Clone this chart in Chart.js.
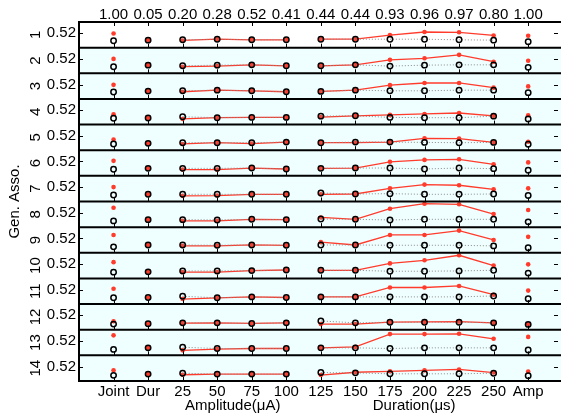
<!DOCTYPE html>
<html>
<head>
<meta charset="utf-8">
<script src="https://cdn.jsdelivr.net/npm/chart.js@4.4.1/dist/chart.umd.min.js"></script>
<style>
html, body { margin: 0; padding: 0; background: #fff; }
</style>
</head>
<body>
<canvas id="myChart" width="561" height="416"></canvas>
<script>
// categories along the x axis and the row of numbers above the plot
const categories = ["Joint", "Dur", "25", "50", "75", "100", "125", "150", "175", "200", "225", "250", "Amp"];
const topLabels = ["1.00", "0.05", "0.20", "0.28", "0.52", "0.41", "0.44", "0.44", "0.93", "0.96", "0.97", "0.80", "1.00"];
const panels = ["1", "2", "3", "4", "5", "6", "7", "8", "9", "10", "11", "12", "13", "14"];
const yTick = 0.52;

// one row per panel
const redValues = [
	[0.51, 0.30, 0.29, 0.33, 0.31, 0.31, 0.33, 0.33, 0.46, 0.56, 0.55, 0.45, 0.44],
	[0.52, 0.32, 0.27, 0.29, 0.33, 0.30, 0.30, 0.33, 0.49, 0.54, 0.65, 0.43, 0.46],
	[0.51, 0.31, 0.29, 0.34, 0.32, 0.29, 0.30, 0.34, 0.50, 0.57, 0.57, 0.42, 0.46],
	[0.39, 0.27, 0.24, 0.28, 0.29, 0.29, 0.30, 0.34, 0.37, 0.40, 0.43, 0.34, 0.36],
	[0.40, 0.28, 0.26, 0.30, 0.27, 0.32, 0.30, 0.30, 0.32, 0.44, 0.43, 0.31, 0.33],
	[0.54, 0.30, 0.26, 0.26, 0.31, 0.28, 0.30, 0.31, 0.51, 0.57, 0.59, 0.43, 0.49],
	[0.52, 0.29, 0.24, 0.25, 0.29, 0.29, 0.29, 0.30, 0.48, 0.60, 0.58, 0.45, 0.48],
	[0.68, 0.30, 0.26, 0.26, 0.31, 0.30, 0.37, 0.31, 0.65, 0.81, 0.79, 0.48, 0.61],
	[0.63, 0.31, 0.28, 0.28, 0.31, 0.30, 0.40, 0.31, 0.63, 0.63, 0.77, 0.47, 0.57],
	[0.58, 0.27, 0.26, 0.26, 0.31, 0.33, 0.32, 0.32, 0.54, 0.64, 0.80, 0.47, 0.51],
	[0.55, 0.27, 0.22, 0.26, 0.29, 0.27, 0.29, 0.29, 0.59, 0.59, 0.64, 0.36, 0.49],
	[0.33, 0.25, 0.27, 0.28, 0.26, 0.28, 0.24, 0.24, 0.30, 0.31, 0.32, 0.28, 0.24],
	[0.70, 0.30, 0.22, 0.26, 0.28, 0.28, 0.30, 0.33, 0.74, 0.74, 0.75, 0.59, 0.65],
	[0.40, 0.28, 0.26, 0.28, 0.28, 0.28, 0.25, 0.34, 0.37, 0.40, 0.43, 0.33, 0.36],
];
const blackValues = [
	[0.28, 0.30, 0.31, 0.33, 0.31, 0.31, 0.33, 0.33, 0.33, 0.33, 0.31, 0.30, 0.25],
	[0.27, 0.32, 0.30, 0.32, 0.33, 0.30, 0.30, 0.33, 0.29, 0.32, 0.33, 0.33, 0.25],
	[0.28, 0.31, 0.32, 0.34, 0.32, 0.29, 0.30, 0.34, 0.32, 0.32, 0.34, 0.34, 0.26],
	[0.26, 0.27, 0.31, 0.28, 0.29, 0.29, 0.33, 0.34, 0.29, 0.28, 0.28, 0.33, 0.24],
	[0.26, 0.28, 0.30, 0.30, 0.30, 0.32, 0.30, 0.32, 0.32, 0.31, 0.30, 0.31, 0.25],
	[0.27, 0.30, 0.30, 0.30, 0.31, 0.28, 0.30, 0.31, 0.31, 0.28, 0.31, 0.29, 0.24],
	[0.27, 0.29, 0.29, 0.29, 0.29, 0.29, 0.33, 0.30, 0.31, 0.29, 0.29, 0.30, 0.25],
	[0.26, 0.30, 0.30, 0.29, 0.31, 0.30, 0.32, 0.31, 0.29, 0.31, 0.31, 0.31, 0.23],
	[0.25, 0.31, 0.31, 0.30, 0.31, 0.30, 0.31, 0.31, 0.30, 0.30, 0.30, 0.28, 0.22],
	[0.26, 0.27, 0.30, 0.30, 0.31, 0.33, 0.32, 0.32, 0.29, 0.29, 0.30, 0.32, 0.23],
	[0.26, 0.27, 0.31, 0.26, 0.29, 0.27, 0.29, 0.29, 0.29, 0.29, 0.29, 0.32, 0.23],
	[0.24, 0.25, 0.28, 0.28, 0.26, 0.28, 0.34, 0.28, 0.30, 0.30, 0.30, 0.28, 0.23],
	[0.25, 0.30, 0.32, 0.28, 0.28, 0.28, 0.30, 0.30, 0.28, 0.30, 0.30, 0.30, 0.23],
	[0.24, 0.28, 0.31, 0.28, 0.28, 0.28, 0.33, 0.32, 0.29, 0.29, 0.29, 0.31, 0.23],
];

const RED = "#ff3b2c";
const DOT = "#8c8c8c";
const FONT = "'Liberation Sans', Arial, sans-serif";
// no line between these index and the next one
const breaks = [0, 1, 5, 11];

Chart.defaults.font.family = FONT;
Chart.defaults.font.size = 15;
Chart.defaults.color = "#000";

const datasets = [];
panels.forEach((name, p) => {
	datasets.push({
		label: "red " + name,
		yAxisID: "y" + p,
		data: redValues[p].map((v, i) => ({ x: i, y: v })),
		borderColor: RED,
		backgroundColor: RED,
		borderWidth: 1.3,
		pointRadius: 2.3,
		pointBorderWidth: 0,
		order: 1,
		segment: { borderColor: (c) => (breaks.includes(c.p0DataIndex) ? "rgba(0,0,0,0)" : RED) },
	});
	datasets.push({
		label: "black " + name,
		yAxisID: "y" + p,
		data: blackValues[p].map((v, i) => ({ x: i, y: v })),
		borderColor: DOT,
		borderWidth: 1,
		borderDash: [1, 2],
		pointRadius: 2.7,
		pointBorderWidth: 1.5,
		pointBorderColor: "#000",
		pointBackgroundColor: "rgba(0,0,0,0)",
		order: 0,
		segment: { borderColor: (c) => (breaks.includes(c.p0DataIndex) ? "rgba(0,0,0,0)" : DOT) },
	});
});

const noGrid = { display: false, drawTicks: false, tickLength: 0 };
const fitX = (h) => (s) => {
	s.height = h;
	s.paddingLeft = 0;
	s.paddingRight = 0;
};
const scales = {
	x: {
		type: "linear",
		position: "bottom",
		min: -1,
		max: 12.95,
		grid: noGrid,
		border: { display: false },
		afterBuildTicks: (s) => { s.ticks = categories.map((c, i) => ({ value: i })); },
		ticks: { callback: (v) => categories[v], autoSkip: false, maxRotation: 0, padding: 2 },
		afterFit: fitX(35),
	},
	x2: {
		type: "linear",
		position: "top",
		min: -1,
		max: 12.95,
		grid: noGrid,
		border: { display: false },
		afterBuildTicks: (s) => { s.ticks = topLabels.map((c, i) => ({ value: i })); },
		ticks: { callback: (v) => topLabels[v], autoSkip: false, maxRotation: 0, padding: 0, font: { lineHeight: 1 } },
		afterFit: fitX(22),
	},
};
panels.forEach((name, p) => {
	scales["y" + p] = {
		type: "linear",
		position: "left",
		stack: "rows",
		stackWeight: 1,
		weight: panels.length - p,
		min: 0.06,
		max: 0.88,
		grid: noGrid,
		border: { display: false },
		afterBuildTicks: (s) => { s.ticks = [{ value: yTick }]; },
		ticks: { callback: (v) => v.toFixed(2), padding: 3 },
		title: { display: true, text: name, padding: 0 },
		afterFit: (s) => {
			s.width = 52;
			s.paddingTop = 0;
			s.paddingBottom = 0;
		},
	};
});

const panelPlugin = {
	id: "panels",
	beforeDatasetsDraw(chart) {
		const { ctx, chartArea } = chart;
		ctx.save();
		panels.forEach((name, p) => {
			const s = chart.scales["y" + p];
			ctx.fillStyle = p === 0 ? "#ffffff" : "#effefe";
			ctx.fillRect(chartArea.left, s.top, chartArea.right - chartArea.left, s.bottom - s.top);
		});
		ctx.restore();
	},
	afterDatasetsDraw(chart) {
		const { ctx, chartArea } = chart;
		const xs = chart.scales.x;
		ctx.save();
		ctx.strokeStyle = "#000";
		ctx.lineWidth = 1;
		panels.forEach((name, p) => {
			const s = chart.scales["y" + p];
			ctx.beginPath();
			categories.forEach((c, i) => {
				const px = Math.round(xs.getPixelForValue(i)) + 0.5;
				ctx.moveTo(px, s.bottom);
				ctx.lineTo(px, s.bottom - 4);
				if (p === 0) {
					ctx.moveTo(px, s.top);
					ctx.lineTo(px, s.top + 4);
				}
			});
			const py = Math.round(s.getPixelForValue(yTick)) + 0.5;
			ctx.moveTo(chartArea.left, py);
			ctx.lineTo(chartArea.left + 4, py);
			ctx.moveTo(chartArea.right - 7, py);
			ctx.lineTo(chartArea.right - 3, py);
			ctx.stroke();
		});
		ctx.lineWidth = 2;
		ctx.beginPath();
		panels.forEach((name, p) => {
			const s = chart.scales["y" + p];
			ctx.moveTo(chartArea.left - 1, s.top);
			ctx.lineTo(chartArea.right, s.top);
		});
		ctx.moveTo(chartArea.left - 1, chartArea.bottom);
		ctx.lineTo(chartArea.right, chartArea.bottom);
		ctx.moveTo(chartArea.left, chartArea.top);
		ctx.lineTo(chartArea.left, chartArea.bottom);
		ctx.stroke();

		ctx.fillStyle = "#000";
		ctx.font = "15px " + FONT;
		ctx.textAlign = "center";
		ctx.textBaseline = "middle";
		ctx.fillText("Amplitude(μA)", xs.getPixelForValue(3.45), chartArea.bottom + 25);
		ctx.fillText("Duration(μs)", xs.getPixelForValue(8.7), chartArea.bottom + 25);
		ctx.translate(15, (chartArea.top + chartArea.bottom) / 2);
		ctx.rotate(-Math.PI / 2);
		ctx.fillText("Gen. Asso.", 0, 0);
		ctx.restore();
	},
};

new Chart(document.getElementById("myChart").getContext("2d"), {
	type: "line",
	data: { datasets },
	options: {
		responsive: false,
		animation: false,
		layout: { autoPadding: false, padding: { left: 27, right: 0, top: 0, bottom: 0 } },
		plugins: { legend: { display: false }, tooltip: { enabled: false } },
		scales,
	},
	plugins: [panelPlugin],
});
</script>
</body>
</html>
